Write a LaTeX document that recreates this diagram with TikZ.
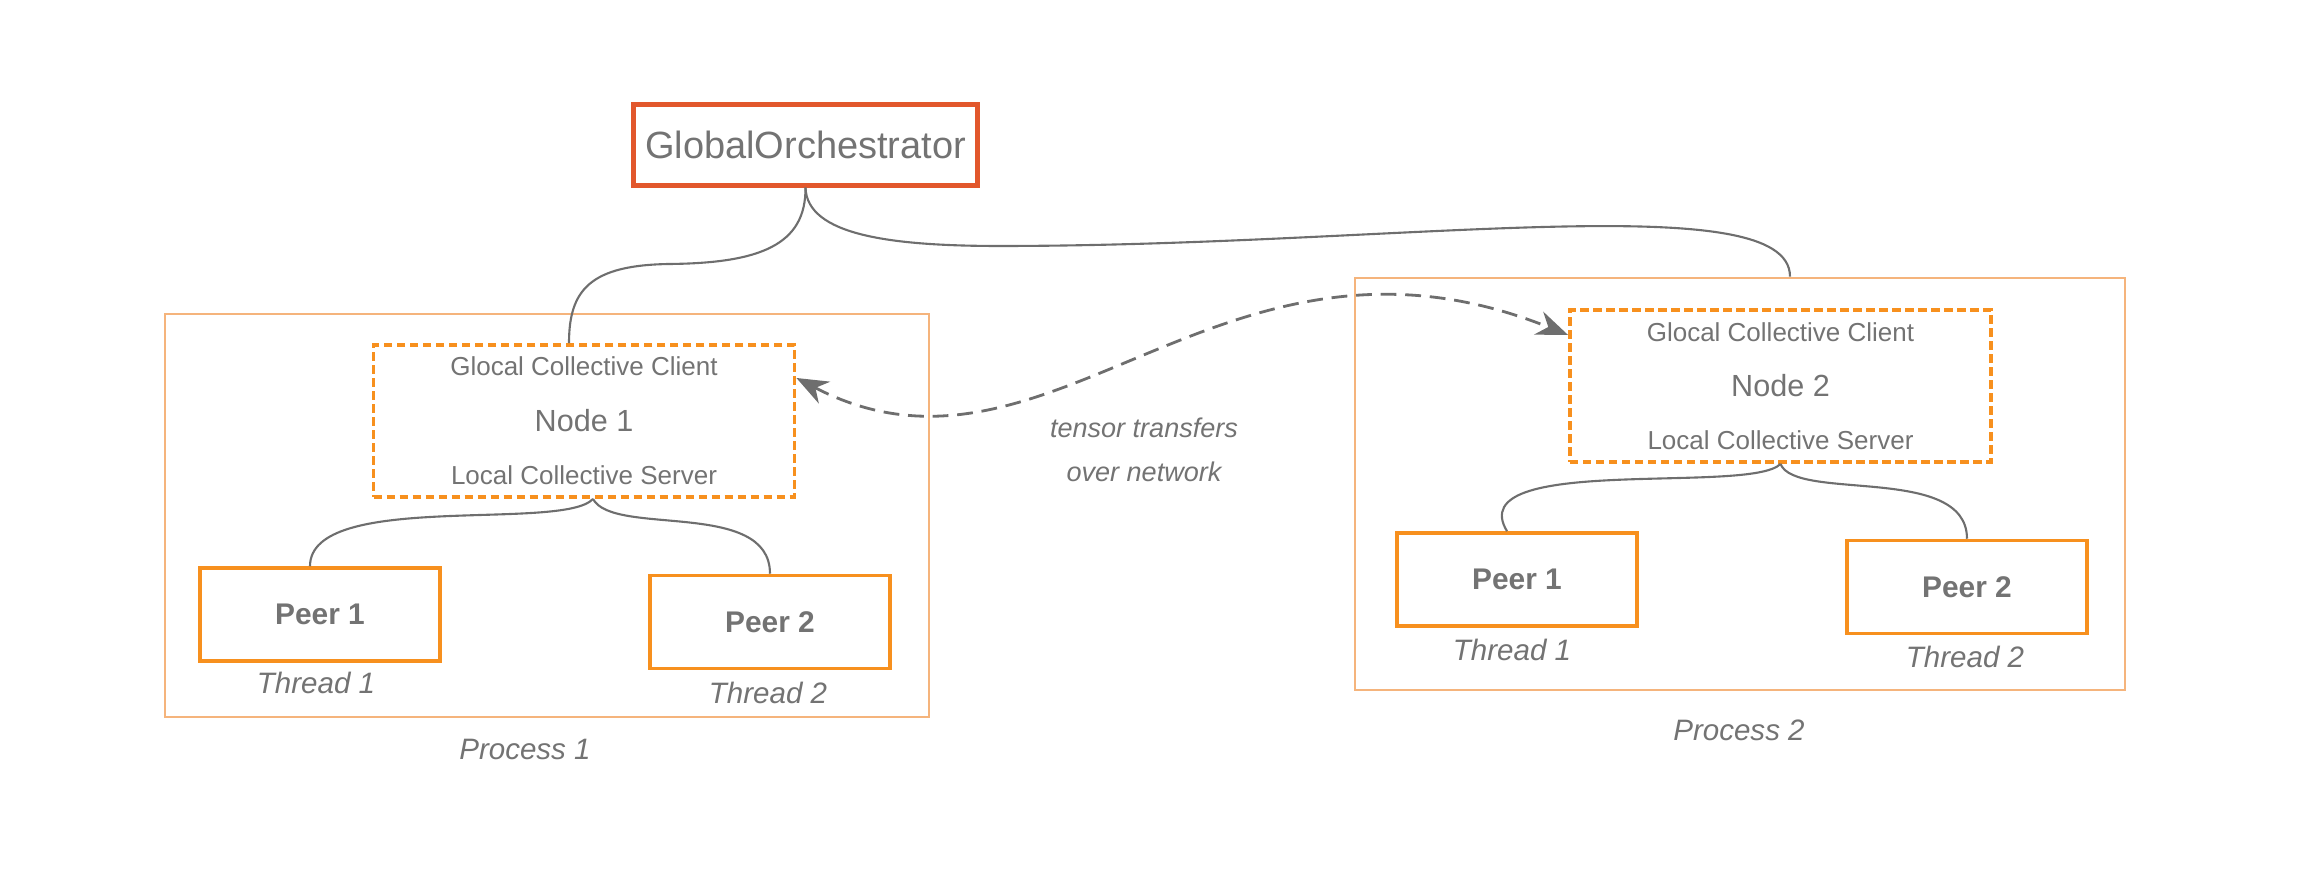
\documentclass[tikz,border=0pt]{standalone}
\usepackage{fontspec}
\setmainfont{Liberation Sans}
\usetikzlibrary{arrows.meta,positioning}
\definecolor{txtgris}{HTML}{737373}
\definecolor{lineagris}{HTML}{6E6E6E}
\definecolor{rojo}{HTML}{E2572C}
\definecolor{naranja}{HTML}{F7901E}
\definecolor{naranjaclaro}{HTML}{F5B47C}

\begin{document}
\begin{tikzpicture}[
    caja/.style={draw=naranja, line width=1pt, minimum width=2.4cm, minimum height=0.93cm,
        text=txtgris, font=\fontsize{8.5}{10}\selectfont\bfseries},
    nodo/.style={draw=naranja, line width=1.1pt, dash pattern=on 2.4pt off 1.3pt,
        minimum width=4.21cm, minimum height=1.52cm, text=txtgris, font=\fontsize{8.7}{10}\selectfont},
    proceso/.style={draw=naranjaclaro, line width=0.8pt},
    etiq/.style={text=txtgris, font=\fontsize{8.4}{10}\selectfont\itshape},
    sub/.style={text=txtgris, font=\fontsize{7.4}{9}\selectfont},
    enlace/.style={draw=lineagris, line width=0.6pt},
    transfer/.style={draw=lineagris, line width=0.8pt, dash pattern=on 4.5pt off 2.5pt,
        {Stealth[length=9pt,width=7pt]}-{Stealth[length=9pt,width=7pt]}}]
    \useasboundingbox (0,0) rectangle (23.11,-8.70);

    % Procesos
    \node[proceso, minimum width=7.64cm, minimum height=4.03cm] (proc1) at (5.47,-5.155) {};
    \node[proceso, minimum width=7.70cm, minimum height=4.12cm] (proc2) at (17.40,-4.84) {};
    \node[etiq] (lproc1) at (5.25,-7.49) {Process 1};
    \node[etiq] (lproc2) at (17.39,-7.30) {Process 2};

    % Orquestador
    \node[draw=rojo, line width=1.2pt, minimum width=3.41cm, minimum height=0.81cm,
        text=txtgris, font=\fontsize{10.8}{12}\selectfont] (orq) at (8.055,-1.45) {GlobalOrchestrator};

    % Nodos
    \node[nodo] (node1) at (5.84,-4.21) {Node 1};
    \node[sub] (cli1) at ([yshift=-2.35mm]node1.north) {Glocal Collective Client};
    \node[sub] (srv1) at ([yshift=2.4mm]node1.south) {Local Collective Server};
    \node[nodo] (node2) at (17.805,-3.86) {Node 2};
    \node[sub] (cli2) at ([yshift=-2.4mm]node2.north) {Glocal Collective Client};
    \node[sub] (srv2) at ([yshift=2.35mm]node2.south) {Local Collective Server};

    % Peers
    \node[caja] (peer11) at (3.20,-6.145) {Peer 1};
    \node[caja] (peer12) at (7.70,-6.22) {Peer 2};
    \node[caja] (peer21) at (15.17,-5.795) {Peer 1};
    \node[caja] (peer22) at (19.67,-5.87) {Peer 2};
    \node[etiq] (hilo11) at (3.16,-6.83) {Thread 1};
    \node[etiq] (hilo12) at (7.68,-6.93) {Thread 2};
    \node[etiq] (hilo21) at (15.12,-6.50) {Thread 1};
    \node[etiq] (hilo22) at (19.65,-6.57) {Thread 2};

    % Enlaces
    \draw[enlace] (orq.south) .. controls (8.06,-2.45) and (7.6,-2.63) .. (6.7,-2.64)
        .. controls (5.9,-2.65) and (5.69,-2.9) .. ([xshift=-1.5mm]node1.north);
    \draw[enlace] (orq.south) .. controls (8.07,-2.35) and (8.9,-2.46) .. (10.0,-2.46)
        .. controls (14.0,-2.46) and (17.9,-1.85) .. ([xshift=5mm]proc2.north);
    \draw[enlace] ([xshift=0.9mm]node1.south) .. controls +(-0.3,-0.33) and +(0,0.76) .. ([xshift=-1mm]peer11.north);
    \draw[enlace] ([xshift=0.9mm]node1.south) .. controls +(0.2,-0.38) and +(0,0.75) .. (peer12.north);
    \draw[enlace] (node2.south) .. controls +(-0.3,-0.31) and +(-0.47,0.78) .. ([xshift=-1mm]peer21.north);
    \draw[enlace] (node2.south) .. controls +(0.15,-0.38) and +(0,0.75) .. (peer22.north);

    % Transferencias
    \draw[transfer] ([yshift=4.3mm]node1.east) .. controls (10.5,-5.1) and (12.2,-1.95) .. ([yshift=5.1mm]node2.west);
    \node[etiq, font=\fontsize{7.7}{12.5}\selectfont\itshape, align=center] (red1) at (11.44,-4.50) {tensor transfers\\over network};
\end{tikzpicture}
\end{document}
